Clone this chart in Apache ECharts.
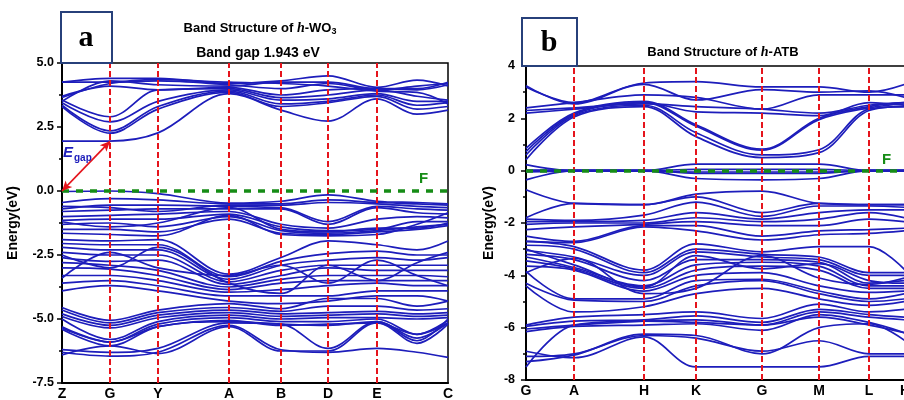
<!DOCTYPE html>
<html><head><meta charset="utf-8">
<script src="https://cdn.jsdelivr.net/npm/echarts@6/dist/echarts.min.js"></script>
<style>html,body{margin:0;padding:0;background:#fff}#c{width:904px;height:400px}</style>
</head><body><div id="c"></div>
<script>
// ---------- Panel a: h-WO3 ----------
const kA = [0, 48, 96, 167, 219, 266, 315, 355, 386];          // Z G Y A B D E (E-C) C
const kASym = [0, 48, 96, 167, 219, 266, 315, 386];
const kALabels = ['Z', 'G', 'Y', 'A', 'B', 'D', 'E', 'C'];
const gapA = 1.943;
const condA = [
  [1.95, 1.95, 2.27, 3.8, 3.16, 2.73, 3.6, 3.0, 3.16],
  [3.3, 2.26, 3.2, 3.85, 3.3, 3.45, 3.7, 3.2, 3.3],
  [3.35, 2.35, 3.3, 3.9, 3.4, 3.5, 3.75, 3.35, 3.45],
  [3.45, 2.7, 3.5, 3.95, 3.55, 3.6, 3.8, 3.5, 3.5],
  [3.55, 2.9, 3.95, 4.0, 3.65, 3.75, 3.95, 3.7, 3.55],
  [3.7, 4.1, 3.95, 4.05, 3.75, 3.95, 4.0, 3.95, 4.15],
  [4.25, 4.25, 4.3, 4.15, 4.0, 4.2, 3.95, 4.1, 4.2],
  [4.25, 4.4, 4.4, 4.2, 4.3, 4.5, 4.05, 4.33, 4.1],
  [3.5, 4.3, 4.15, 4.1, 4.25, 4.25, 4.0, 4.0, 4.25],
  [3.65, 4.2, 4.35, 4.25, 4.2, 4.1, 3.9, 3.85, 3.4]
];
const valTopA = [
  [-0.02, 0.0, -0.1, -0.47, -0.4, -0.15, -0.4, -0.45, -0.5],
  [-0.45, -0.3, -0.35, -0.5, -0.5, -0.35, -0.45, -0.5, -0.55],
  [-0.6, -0.65, -0.8, -0.55, -0.55, -0.45, -0.5, -0.6, -0.65],
  [-0.7, -0.55, -0.55, -0.6, -0.65, -1.2, -0.6, -0.7, -0.75],
  [-0.8, -0.75, -0.7, -0.7, -0.7, -1.3, -0.65, -0.85, -0.9],
  [-1.0, -0.95, -0.9, -0.8, -1.3, -1.45, -1.1, -1.0, -1.05],
  [-1.15, -1.1, -1.1, -0.9, -1.4, -1.55, -1.5, -1.2, -1.2],
  [-1.2, -1.4, -1.25, -0.65, -1.5, -1.6, -1.45, -1.45, -1.25],
  [-1.3, -1.25, -1.4, -1.0, -1.55, -1.65, -1.55, -1.4, -1.3],
  [-1.5, -1.5, -1.6, -1.1, -1.65, -1.7, -1.6, -1.5, -1.35],
  [-1.65, -1.7, -1.75, -0.95, -1.7, -1.75, -1.7, -1.3, -0.85]
];
const valMidA = [
  [-1.9, -1.95, -1.9, -3.25, -2.6, -1.95, -2.1, -2.3, -1.95],
  [-2.05, -2.1, -2.1, -3.35, -2.75, -2.45, -2.35, -2.5, -2.5],
  [-2.2, -2.3, -2.3, -3.45, -2.9, -2.7, -2.6, -2.7, -2.6],
  [-2.4, -2.5, -2.5, -3.55, -3.1, -2.9, -2.9, -2.9, -2.9],
  [-2.6, -2.75, -2.7, -3.65, -3.3, -3.0, -3.1, -3.1, -3.1],
  [-2.8, -2.9, -3.1, -3.75, -3.45, -3.3, -3.3, -3.3, -3.35],
  [-3.0, -3.05, -3.3, -3.85, -3.6, -3.5, -3.5, -3.5, -3.5],
  [-3.3, -3.3, -3.5, -3.95, -3.85, -3.7, -3.6, -3.7, -3.7],
  [-3.6, -3.5, -3.7, -4.1, -4.1, -4.1, -3.9, -3.9, -3.9],
  [-3.9, -3.7, -3.9, -4.3, -4.4, -4.3, -4.1, -4.1, -4.3],
  [-2.5, -3.0, -2.2, -3.6, -4.0, -2.9, -3.5, -2.8, -2.4],
  [-3.4, -2.4, -3.0, -3.3, -2.9, -3.6, -2.7, -3.3, -3.7]
];
const valLowA = [
  [-4.55, -5.05, -4.65, -4.4, -4.6, -4.2, -4.2, -4.5, -4.3],
  [-4.65, -5.15, -4.75, -4.55, -4.7, -4.5, -4.5, -4.65, -4.6],
  [-4.8, -5.25, -4.85, -4.65, -4.8, -4.75, -4.7, -4.8, -4.75],
  [-4.9, -5.35, -4.95, -4.75, -4.9, -4.85, -4.8, -4.9, -4.85],
  [-5.0, -5.8, -5.1, -4.85, -5.0, -4.95, -4.95, -5.0, -4.95],
  [-5.3, -5.9, -5.2, -4.95, -5.1, -5.1, -5.0, -5.6, -5.05],
  [-5.4, -6.05, -5.3, -5.1, -5.2, -5.25, -5.1, -5.75, -5.15]
];
const valBotA = [
  [-6.3, -6.45, -6.3, -5.25, -6.2, -6.3, -6.15, -6.3, -6.5],
  [-6.2, -6.3, -6.15, -5.15, -5.2, -6.15, -5.1, -5.85, -5.0],
  [-5.35, -5.9, -5.3, -5.05, -5.25, -5.2, -5.15, -5.95, -5.2],
  [-6.4, -6.05, -6.35, -5.3, -6.25, -6.25, -5.15, -5.6, -5.15]
];

// ---------- Panel b: h-ATB ----------
const kB = [0, 48, 118, 170, 236, 293, 343, 379];              // G A H K G M L H
const kBLabels = ['G', 'A', 'H', 'K', 'G', 'M', 'L', 'H'];
const condB = [
  [0.42, 2.05, 2.45, 1.3, 0.5, 0.69, 2.3, 2.45],
  [0.6, 2.1, 2.5, 1.45, 0.6, 0.8, 2.35, 2.45],
  [0.73, 2.15, 2.6, 1.7, 0.78, 1.95, 2.4, 2.55],
  [0.85, 2.2, 2.65, 1.75, 0.82, 2.0, 2.45, 2.6],
  [2.2, 2.35, 2.6, 2.25, 2.2, 2.1, 2.6, 2.5],
  [2.3, 2.4, 2.55, 2.45, 2.35, 2.2, 2.5, 2.6],
  [2.4, 2.6, 2.9, 2.8, 2.35, 2.9, 2.9, 2.9],
  [3.2, 2.6, 3.35, 3.4, 3.2, 3.2, 3.0, 3.3],
  [3.25, 2.55, 3.3, 2.7, 3.1, 3.0, 3.05, 2.8]
];
const fermiB = [
  [0.23, 0.0, 0.0, 0.25, 0.25, 0.25, 0.0, 0.0],
  [-0.35, 0.0, 0.0, -0.3, -0.35, -0.3, 0.0, 0.0],
  [0.0, 0.0, 0.0, 0.05, 0.05, 0.05, 0.0, 0.0],
  [-0.05, -0.02, -0.02, -0.05, -0.05, -0.05, -0.02, -0.02],
  [0.02, 0.02, 0.02, -0.1, -0.1, -0.1, 0.02, 0.02]
];
const valTopB = [
  [-0.73, -1.25, -1.3, -0.9, -0.78, -1.25, -1.3, -1.3],
  [-1.8, -1.25, -1.3, -1.0, -1.6, -1.25, -1.3, -1.3],
  [-1.85, -1.9, -1.7, -1.2, -1.75, -1.35, -1.35, -1.4],
  [-1.95, -1.95, -1.9, -1.6, -1.85, -1.6, -1.5, -1.5],
  [-2.05, -2.0, -2.0, -1.8, -1.95, -1.85, -1.6, -1.8],
  [-2.25, -2.15, -2.05, -1.95, -2.1, -2.1, -1.85, -1.95],
  [-2.5, -2.7, -2.1, -2.1, -2.5, -2.3, -2.25, -2.2],
  [-2.7, -2.75, -2.15, -2.3, -2.65, -2.45, -2.4, -2.3]
];
const valMidB = [
  [-2.7, -2.9, -3.8, -2.8, -3.1, -2.9, -2.9, -3.8],
  [-2.85, -3.0, -3.9, -3.0, -3.2, -3.3, -3.9, -3.9],
  [-3.05, -3.3, -4.0, -3.1, -3.3, -3.4, -4.0, -4.0],
  [-3.2, -3.4, -4.2, -3.4, -3.4, -3.5, -4.3, -4.2],
  [-3.3, -3.7, -4.4, -3.6, -3.5, -3.65, -4.4, -4.4],
  [-3.45, -3.75, -4.5, -3.8, -3.65, -3.8, -4.5, -4.5],
  [-3.65, -3.8, -4.6, -4.0, -3.9, -4.4, -4.65, -4.6],
  [-3.85, -4.9, -4.9, -4.2, -4.15, -4.6, -4.9, -4.7],
  [-4.3, -4.95, -5.0, -4.4, -4.2, -4.7, -5.0, -4.9],
  [-4.4, -5.4, -5.2, -4.7, -4.5, -4.9, -5.15, -5.0],
  [-3.0, -3.6, -4.45, -3.25, -3.75, -3.55, -4.2, -4.3],
  [-3.9, -3.35, -4.7, -4.5, -3.25, -4.1, -4.35, -4.1]
];
const valLowB = [
  [-5.9, -5.6, -5.5, -5.4, -5.65, -5.1, -5.4, -5.3],
  [-5.95, -5.75, -5.7, -5.55, -5.8, -5.3, -5.5, -5.6],
  [-6.05, -5.9, -5.75, -5.7, -5.9, -5.4, -5.6, -5.7],
  [-6.15, -5.95, -5.9, -5.85, -6.1, -5.5, -5.8, -6.2]
];
const valBotB = [
  [-7.5, -5.9, -5.75, -5.8, -5.9, -5.6, -5.9, -6.2],
  [-7.3, -7.05, -6.25, -6.3, -7.0, -6.0, -5.85, -6.5],
  [-7.1, -7.0, -6.3, -6.4, -6.9, -6.5, -7.0, -7.0],
  [-6.9, -7.15, -6.35, -7.5, -7.5, -7.5, -7.1, -7.1]
];

// ---------- drawing ----------
const BLUE = '#1d1dbb', RED = '#e5141c', GREEN = '#168c16';
const FF = '"Liberation Sans", Arial, sans-serif';
const chart = echarts.init(document.getElementById('c'), null, {renderer: 'canvas'});

function bands(k, list, idx) {
  return list.map(b => ({
    type: 'line', xAxisIndex: idx, yAxisIndex: idx,
    data: b.map((v, i) => [k[i], v]),
    smooth: 0.35, showSymbol: false, symbol: 'none', silent: true,
    lineStyle: {color: BLUE, width: 1.7}, z: 2
  }));
}
function markers(idx, verts, extra) {
  const s = {
    type: 'line', xAxisIndex: idx, yAxisIndex: idx, data: [], silent: true, z: 5,
    markLine: {
      silent: true, symbol: 'none', label: {show: false}, animation: false,
      data: verts.map(v => ({xAxis: v, lineStyle: {color: RED, width: 2, type: [6, 3]}}))
        .concat([{yAxis: 0, lineStyle: {color: GREEN, width: 3.5, type: [7, 7]}}])
    }
  };
  return [s].concat(extra || []);
}
const arrowA = {
  type: 'line', xAxisIndex: 0, yAxisIndex: 0, data: [], silent: true, z: 6,
  markLine: {
    silent: true, symbol: ['arrow', 'arrow'], symbolSize: [7, 10], label: {show: false}, animation: false,
    lineStyle: {color: RED, width: 1.8, type: 'solid'},
    data: [[{coord: [kA[0], 0]}, {coord: [kA[1], gapA]}]]
  }
};

const axisY = (idx, min, max, interval, fmt, nameGap, margin) => ({
  type: 'value', gridIndex: idx, min, max, interval,
  name: 'Energy(eV)', nameLocation: 'middle', nameGap,
  nameTextStyle: {fontFamily: FF, fontWeight: 'bold', fontSize: 14, color: '#000'},
  axisLine: {show: true, lineStyle: {color: '#000', width: 2}},
  axisTick: {show: true, length: 5, lineStyle: {color: '#000', width: 1.5}},
  minorTick: {show: true, splitNumber: 2, length: 3, lineStyle: {color: '#000', width: 1.5}},
  splitLine: {show: false},
  axisLabel: {formatter: fmt, fontFamily: FF, fontWeight: 'bold', fontSize: 12.5, color: '#000', margin}
});
const axisX = (idx, max, kv, labels) => ({
  type: 'value', gridIndex: idx, min: 0, max,
  axisLine: {show: true, onZero: false, lineStyle: {color: '#000', width: 2}},
  axisTick: {show: false}, splitLine: {show: false},
  axisLabel: {
    customValues: kv, fontFamily: FF, fontWeight: 'bold', fontSize: 14, color: '#000', margin: 4,
    hideOverlap: false, showMinLabel: true, showMaxLabel: true,
    formatter: v => labels[kv.indexOf(v)] || ''
  }
});

chart.setOption({
  animation: false,
  backgroundColor: '#fff',
  grid: [
    {left: 62, top: 63, width: 386, height: 320, show: true, borderColor: '#000', borderWidth: 1.5,
     backgroundColor: 'transparent', containLabel: false, outerBoundsMode: 'none'},
    {left: 526, top: 66, width: 379, height: 314, show: true, borderColor: '#000', borderWidth: 1.5,
     backgroundColor: 'transparent', containLabel: false, outerBoundsMode: 'none'}
  ],
  xAxis: [axisX(0, 386, kASym, kALabels), axisX(1, 379, kB, kBLabels)],
  yAxis: [
    axisY(0, -7.5, 5, 2.5, v => v.toFixed(1), 42, 8),
    axisY(1, -8, 4, 2, v => String(v), 30, 11)
  ],
  title: [
    {text: 'Band Structure of {i|h}-WO{s|3}', left: 255, top: 15, textAlign: 'center',
     textStyle: {fontFamily: FF, fontWeight: 'bold', fontSize: 13, color: '#000', lineHeight: 16,
       rich: {i: {fontFamily: '"Liberation Serif", serif', fontStyle: 'italic', fontWeight: 'bold', fontSize: 14, lineHeight: 16},
              s: {fontFamily: FF, fontWeight: 'bold', fontSize: 9, lineHeight: 9, verticalAlign: 'bottom'}}}},
    {text: 'Band gap 1.943 eV', left: 253, top: 41, textAlign: 'center',
     textStyle: {fontFamily: FF, fontWeight: 'bold', fontSize: 14, color: '#000'}},
    {text: 'Band Structure of {i|h}-ATB', left: 718, top: 39, textAlign: 'center',
     textStyle: {fontFamily: FF, fontWeight: 'bold', fontSize: 13, color: '#000', lineHeight: 16,
       rich: {i: {fontFamily: '"Liberation Serif", serif', fontStyle: 'italic', fontWeight: 'bold', fontSize: 14, lineHeight: 16}}}}
  ],
  graphic: [
    {type: 'rect', shape: {x: 61, y: 12, width: 51, height: 51}, style: {fill: '#fff', stroke: '#27407a', lineWidth: 2}, z: 100},
    {type: 'text', x: 86, y: 38, style: {text: 'a', font: 'bold 30px "Liberation Serif", serif', fill: '#000', align: 'center', verticalAlign: 'middle'}, z: 101},
    {type: 'rect', shape: {x: 522, y: 18, width: 55, height: 48}, style: {fill: '#fff', stroke: '#27407a', lineWidth: 2}, z: 100},
    {type: 'text', x: 549, y: 43, style: {text: 'b', font: 'bold 30px "Liberation Serif", serif', fill: '#000', align: 'center', verticalAlign: 'middle'}, z: 101},
    {type: 'text', x: 63, y: 160, style: {text: 'E', font: 'italic bold 15px ' + FF, fill: BLUE, verticalAlign: 'bottom'}, z: 101},
    {type: 'text', x: 74, y: 163, style: {text: 'gap', font: 'bold 10px ' + FF, fill: BLUE, verticalAlign: 'bottom'}, z: 101},
    {type: 'text', x: 419, y: 186, style: {text: 'F', font: 'bold 15px ' + FF, fill: GREEN, verticalAlign: 'bottom'}, z: 101},
    {type: 'text', x: 882, y: 167, style: {text: 'F', font: 'bold 15px ' + FF, fill: GREEN, verticalAlign: 'bottom'}, z: 101}
  ],
  series: [].concat(
    bands(kA, condA, 0), bands(kA, valTopA, 0), bands(kA, valMidA, 0), bands(kA, valLowA, 0), bands(kA, valBotA, 0),
    markers(0, [48, 96, 167, 219, 266, 315], [arrowA]),
    bands(kB, condB, 1), bands(kB, fermiB, 1), bands(kB, valTopB, 1), bands(kB, valMidB, 1), bands(kB, valLowB, 1), bands(kB, valBotB, 1),
    markers(1, [48, 118, 170, 236, 293, 343])
  )
});
</script></body></html>
